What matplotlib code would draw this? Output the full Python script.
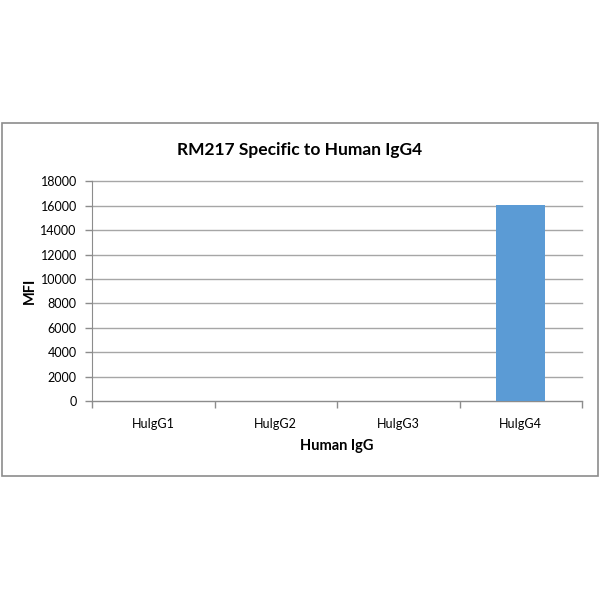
import matplotlib
matplotlib.use('Agg')
import matplotlib.pyplot as plt
from matplotlib.patches import Rectangle
import numpy as np

plt.rcParams['font.family'] = ['Lato', 'DejaVu Sans']

categories = ['HuIgG1', 'HuIgG2', 'HuIgG3', 'HuIgG4']
mfi = [0, 0, 0, 16050]
yticks = [0, 2000, 4000, 6000, 8000, 10000, 12000, 14000, 16000, 18000]

fig = plt.figure(figsize=(6, 6), dpi=100)
fig.patch.set_facecolor('white')

# outer chart frame
fig.patches.append(Rectangle((2/600, 124/600), 596/600, 353/600, transform=fig.transFigure,
                             fill=False, edgecolor='#8c8c8c', linewidth=1.2))

ax = fig.add_axes([92/600, 199/600, 490/600, 219.5/600])
x = np.arange(len(categories))
ax.bar(x, mfi, width=0.4, color='#5b9bd5', zorder=3)

ax.set_xlim(-0.5, len(categories) - 0.5)
ax.set_ylim(0, 18000)
ax.set_yticks(yticks)
ax.set_yticklabels([str(t) for t in yticks], fontsize=9)
ax.set_xticks(x)
ax.set_xticklabels(categories, fontsize=9)
ax.tick_params(axis='x', length=0, pad=12)
ax.tick_params(axis='y', length=5, width=1, color='#8c8c8c', pad=6)
ax.set_xticks(np.arange(len(categories) + 1) - 0.5, minor=True)
ax.tick_params(axis='x', which='minor', length=5, width=1, color='#8c8c8c')

ax.grid(axis='y', color='#a6a6a6', linewidth=1, zorder=0)
for gl in ax.get_ygridlines():
    gl.set_clip_on(False)
for s in ['top', 'right']:
    ax.spines[s].set_visible(False)
ax.spines['left'].set_color('#8c8c8c')
ax.spines['bottom'].set_color('#8c8c8c')

ax.set_ylabel('MFI', fontsize=10.5, fontweight='bold')
ax.yaxis.set_label_coords(-0.113, 0.5)
ax.set_xlabel('Human IgG', fontsize=10.5, fontweight='bold', labelpad=7)
fig.text(0.5, 450/600, 'RM217 Specific to Human IgG4', ha='center', va='center',
         fontsize=12.5, fontweight='bold')

fig.savefig('out.png', dpi=100, facecolor='white')
